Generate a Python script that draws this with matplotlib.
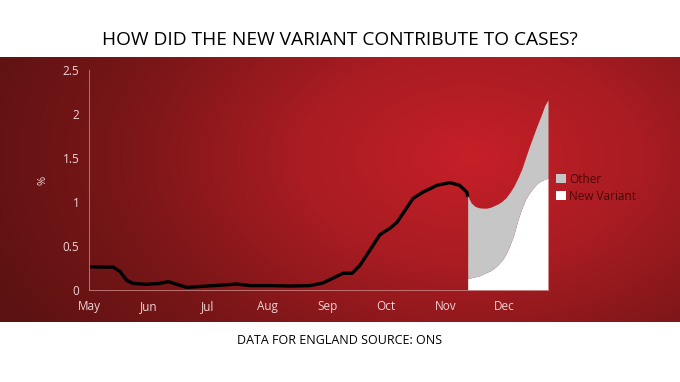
import numpy as np
import matplotlib
matplotlib.use("Agg")
import matplotlib.pyplot as plt
from matplotlib.colors import LinearSegmentedColormap

# days counted from 1 May
month_starts = [0, 31, 61, 92, 123, 153, 184, 214]
month_labels = ['May', 'Jun', 'Jul', 'Aug', 'Sep', 'Oct', 'Nov', 'Dec']

# positivity (%) before the variant split
line_days = [0, 6, 12.5, 16, 19.4, 22.8, 29.7, 36.6, 40.9, 45.2, 50.4, 60.7,
             68, 76, 83, 93, 103.6, 114, 120.6, 131, 135.6, 139.7, 150, 155, 158.8,
             167, 172, 179.4, 186, 191, 194.8, 195.2]
line_vals = [0.265, 0.26, 0.26, 0.21, 0.11, 0.075, 0.065, 0.075, 0.095, 0.065,
             0.03, 0.045, 0.055, 0.068, 0.05, 0.05, 0.045, 0.05, 0.08, 0.19, 0.19,
             0.28, 0.63, 0.70, 0.77, 1.04, 1.11, 1.19, 1.22, 1.19, 1.11, 1.06]

# split into new variant and other
area_days = [195.2, 197, 199, 201, 203, 205, 207, 209, 211, 213, 215, 217, 219,
             221, 223, 225, 227, 229, 231, 233, 235, 236.6]
total_vals = [1.07, 0.99, 0.95, 0.935, 0.93, 0.93, 0.94, 0.96, 0.98, 1.01, 1.05,
              1.11, 1.18, 1.27, 1.37, 1.50, 1.63, 1.75, 1.87, 1.98, 2.10, 2.16]
new_variant = [0.13, 0.14, 0.15, 0.16, 0.18, 0.20, 0.22, 0.25, 0.29, 0.34, 0.41,
               0.51, 0.63, 0.79, 0.92, 1.03, 1.10, 1.16, 1.21, 1.24, 1.26, 1.27]

W, H = 680, 382
fig = plt.figure(figsize=(W / 100, H / 100), dpi=100)
fig.patch.set_facecolor('white')

# red gradient band
band = fig.add_axes([0, (H - 322) / H, 1, 265 / H])
band.axis('off')
yy, xx = np.mgrid[0:265, 0:680]
d = np.sqrt(((xx - 470) / 520) ** 2 + ((yy - 100) / 330) ** 2)
cmap = LinearSegmentedColormap.from_list('sky', ['#c61f28', '#a81c22', '#7a1618', '#5c1212'])
band.imshow(np.clip(d, 0, 1), cmap=cmap, vmin=0, vmax=1, aspect='auto',
            extent=[0, 1, 0, 1], origin='upper')
band.set_xlim(0, 1)
band.set_ylim(0, 1)

ax = fig.add_axes([89 / W, (H - 290) / H, 459 / W, 220 / H])
ax.patch.set_alpha(0)
ax.fill_between(area_days, 0, new_variant, color='white', lw=0, label='New Variant')
ax.fill_between(area_days, new_variant, total_vals, color='#c6c6c6', lw=0, label='Other')
ax.plot(line_days, line_vals, color='black', lw=2.4, solid_capstyle='butt', solid_joinstyle='round')

ax.set_xlim(0, 236.6)
ax.set_ylim(0, 2.5)
ax.set_xticks(month_starts)
ax.set_xticklabels(month_labels)
ax.set_yticks([0, 0.5, 1, 1.5, 2, 2.5])
ax.set_yticklabels(['0', '0.5', '1', '1.5', '2', '2.5'])
for s in ['top', 'right']:
    ax.spines[s].set_visible(False)
for s in ['left', 'bottom']:
    ax.spines[s].set_color('#c88080')
    ax.spines[s].set_linewidth(0.6)
ax.tick_params(length=0, colors='#f2d4d4', labelsize=8.5, pad=7)
for lab in ax.get_xticklabels() + ax.get_yticklabels():
    lab.set_family('Open Sans')
ax.set_ylabel('%', color='#f2d4d4', fontsize=8, family='Open Sans', labelpad=10)

handles, labels = ax.get_legend_handles_labels()
leg = ax.legend(handles[::-1], labels[::-1], loc='upper left', bbox_to_anchor=(0.995, 0.58),
                frameon=False, handlelength=0.8, handleheight=0.8, handletextpad=0.3,
                labelspacing=0.3, prop={'family': 'Open Sans', 'size': 8.5})
for t in leg.get_texts():
    t.set_color('#4a0808')

fig.text(0.5, (H - 40) / H, 'HOW DID THE NEW VARIANT CONTRIBUTE TO CASES?', ha='center',
         va='center', fontsize=13.8, family='Open Sans', color='black')
fig.text(0.5, (H - 340) / H, 'DATA FOR ENGLAND SOURCE: ONS', ha='center', va='center',
         fontsize=9, family='Open Sans', color='black')

fig.savefig('out.png', dpi=100)
